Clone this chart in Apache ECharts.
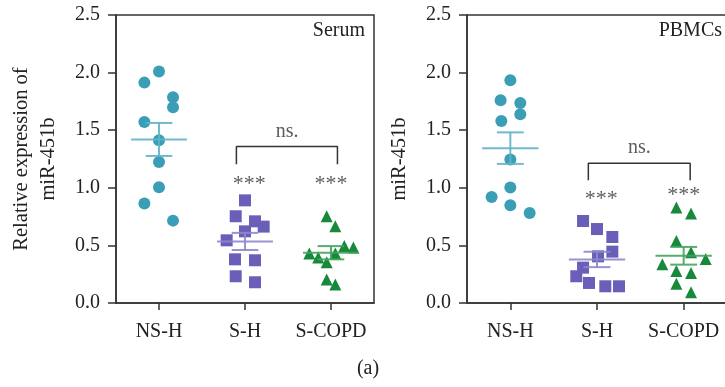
<!DOCTYPE html>
<html>
<head>
<meta charset="utf-8">
<script src="https://cdn.jsdelivr.net/npm/echarts@6/dist/echarts.min.js"></script>
<style>
  html, body { margin: 0; padding: 0; background: #fff; }
  #chart { width: 725px; height: 387px; }
</style>
</head>
<body>
<div id="chart"></div>
<script>
const groups = ['NS-H', 'S-H', 'S-COPD'];

// Serum: values and horizontal jitter (in category units)
const serumNSH = [2.01, 1.913, 1.786, 1.699, 1.571, 1.412, 1.224, 1.004, 0.863, 0.715];
const serumNSHx = [0, -0.17, 0.163, 0.163, -0.17, 0, 0, 0, -0.17, 0.163];
const serumSH = [0.891, 0.753, 0.709, 0.663, 0.622, 0.544, 0.379, 0.371, 0.232, 0.18];
const serumSHx = [0, -0.108, 0.116, 0.217, 0, -0.213, -0.116, 0.116, -0.108, 0.116];
const serumCOPD = [0.753, 0.666, 0.495, 0.481, 0.429, 0.429, 0.394, 0.353, 0.203, 0.16];
const serumCOPDx = [-0.05, 0.05, 0.155, 0.26, -0.252, 0.05, -0.148, -0.05, -0.05, 0.05];

// PBMCs
const pbmcNSH = [1.933, 1.76, 1.736, 1.638, 1.58, 1.245, 1.002, 0.92, 0.848, 0.781];
const pbmcNSHx = [0, -0.112, 0.115, 0.115, -0.104, 0, 0, -0.216, 0, 0.223];
const pbmcSH = [0.712, 0.642, 0.573, 0.446, 0.405, 0.307, 0.232, 0.174, 0.145, 0.145];
const pbmcSHx = [-0.161, 0, 0.177, 0.177, 0.012, -0.161, -0.239, -0.092, 0.096, 0.254];
const pbmcCOPD = [0.828, 0.776, 0.538, 0.44, 0.382, 0.336, 0.278, 0.26, 0.168, 0.093];
const pbmcCOPDx = [-0.084, 0.085, -0.084, 0.085, 0.254, -0.246, -0.084, 0.085, -0.084, 0.085];

// annotation levels: [bracket leg bottom, bracket top, ns. label, *** S-H, *** S-COPD]
const serumMarks = [1.204, 1.358, 1.49, 1.03, 1.03];
const pbmcMarks = [1.065, 1.213, 1.35, 0.9, 0.935];

const FONT = 'Liberation Serif';
const FS = 20;
const AXIS = '#333';
const dotColors = ['#3a9fb6', '#6a5fb8', '#17893a'];
const lineColors = ['#5fb4c8', '#8d87cc', '#45a45c'];
const symbols = ['circle', 'rect', 'triangle'];
const symbolSizes = [12, 12, 12];

function mean(a) { return a.reduce((s, v) => s + v, 0) / a.length; }
function sem(a) {
  const m = mean(a);
  const v = a.reduce((s, x) => s + (x - m) * (x - m), 0) / (a.length - 1);
  return Math.sqrt(v / a.length);
}
function pts(vals, offs, idx) {
  return vals.map((v, i) => [idx + offs[i], v]);
}

const grids = [
  { left: 116, top: 15, width: 258, height: 288 },
  { left: 467, top: 15, width: 260, height: 288 }
];

const panels = [
  { name: 'Relative expression of\nmiR-451b', sets: [[serumNSH, serumNSHx], [serumSH, serumSHx], [serumCOPD, serumCOPDx]], marks: serumMarks },
  { name: 'miR-451b', sets: [[pbmcNSH, pbmcNSHx], [pbmcSH, pbmcSHx], [pbmcCOPD, pbmcCOPDx]], marks: pbmcMarks }
];

const txt = (t, x, y, align) => ({
  type: 'text', x: x, y: y,
  style: { text: t, font: FS + 'px "' + FONT + '"', fill: '#222', align: align, verticalAlign: 'middle' }
});

const option = {
  animation: false,
  backgroundColor: '#fff',
  grid: grids.map(g => Object.assign({ show: true, borderColor: AXIS, borderWidth: 1.5, outerBoundsMode: 'none', containLabel: false }, g)),
  xAxis: [],
  yAxis: [],
  series: [],
  graphic: [
    txt('Serum', 365, 31, 'right'),
    txt('PBMCs', 722, 31, 'right'),
    txt('(a)', 368, 369, 'center')
  ]
};

panels.forEach((p, gi) => {
  // category axis for ticks/labels
  option.xAxis.push({
    type: 'category', gridIndex: gi, data: groups, boundaryGap: true,
    axisLine: { show: true, lineStyle: { color: AXIS, width: 1.5 } },
    axisTick: { show: true, alignWithLabel: true, length: 7, lineStyle: { color: AXIS, width: 1.5 } },
    axisLabel: { show: true, interval: 0, hideOverlap: false, color: '#222', fontFamily: FONT, fontSize: FS, margin: 19 },
    splitLine: { show: false }
  });
  // hidden value axis for positioning
  option.xAxis.push({ type: 'value', gridIndex: gi, min: -0.5, max: 2.5, show: false });
  option.yAxis.push({
    type: 'value', gridIndex: gi, min: 0, max: 2.5, interval: 0.5,
    name: p.name, nameLocation: 'middle', nameGap: 54, nameRotate: 90,
    nameTextStyle: { color: '#222', fontFamily: FONT, fontSize: 20.5, lineHeight: 27 },
    axisLine: { show: true, onZero: false, lineStyle: { color: AXIS, width: 1.5 } },
    axisTick: { show: true, length: 8, lineStyle: { color: AXIS, width: 1.5 } },
    axisLabel: { color: '#222', fontFamily: FONT, fontSize: FS, margin: 16, formatter: v => v.toFixed(1) },
    splitLine: { show: false }
  });
  const vx = gi * 2 + 1;

  p.sets.forEach((s, k) => {
    option.series.push({
      type: 'scatter', xAxisIndex: vx, yAxisIndex: gi,
      data: pts(s[0], s[1], k),
      symbol: symbols[k], symbolSize: symbolSizes[k],
      itemStyle: { color: dotColors[k], opacity: 1 },
      z: 2
    });
  });

  option.series.push({
    type: 'custom', xAxisIndex: vx, yAxisIndex: gi, z: 3,
    data: p.sets.map((s, k) => [k, mean(s[0]), sem(s[0])]),
    renderItem: function (params, api) {
      const x = api.value(0), m = api.value(1), e = api.value(2);
      const c = api.coord([x, m]);
      const unit = api.size([1, 0])[0];
      const hi = api.coord([x, m + e])[1], lo = api.coord([x, m - e])[1];
      const mw = unit * 0.325, cw = unit * 0.155;
      const st = { stroke: lineColors[params.dataIndex], lineWidth: 2, opacity: 0.9 };
      return {
        type: 'group', children: [
          { type: 'line', shape: { x1: c[0] - mw, y1: c[1], x2: c[0] + mw, y2: c[1] }, style: st },
          { type: 'line', shape: { x1: c[0], y1: hi, x2: c[0], y2: lo }, style: st },
          { type: 'line', shape: { x1: c[0] - cw, y1: hi, x2: c[0] + cw, y2: hi }, style: st },
          { type: 'line', shape: { x1: c[0] - cw, y1: lo, x2: c[0] + cw, y2: lo }, style: st }
        ]
      };
    }
  });

  const mk = p.marks;
  // bracket
  option.series.push({
    type: 'line', xAxisIndex: vx, yAxisIndex: gi, symbol: 'none', silent: true,
    data: [[0.9, mk[0]], [0.9, mk[1]], [2.075, mk[1]], [2.075, mk[0]]],
    lineStyle: { color: AXIS, width: 1.5 }
  });
  // text labels
  option.series.push({
    type: 'scatter', xAxisIndex: vx, yAxisIndex: gi, symbolSize: 0, silent: true,
    data: [
      { value: [1.49, mk[2]], label: { formatter: 'ns.', fontSize: FS } },
      { value: [1.05, mk[3]], label: { formatter: '***', fontSize: 22 } },
      { value: [2.0, mk[4]], label: { formatter: '***', fontSize: 22 } }
    ],
    label: { show: true, position: 'inside', color: '#333', fontFamily: FONT }
  });
});

const chart = echarts.init(document.getElementById('chart'), null, { renderer: 'canvas' });
chart.setOption(option);
window.addEventListener('resize', () => chart.resize());
</script>
</body>
</html>
